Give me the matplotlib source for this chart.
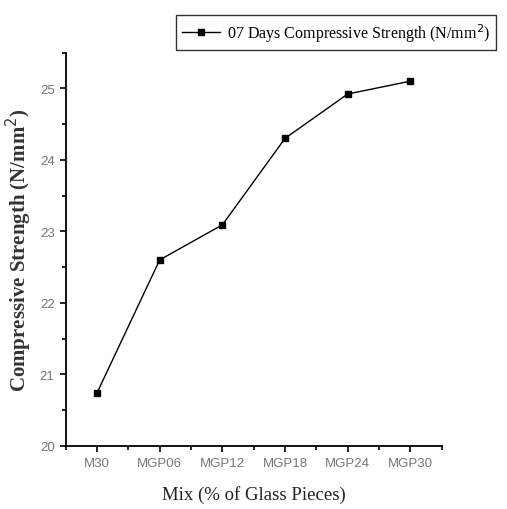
import matplotlib
matplotlib.use("Agg")
import matplotlib.pyplot as plt
from matplotlib.ticker import AutoMinorLocator, MultipleLocator

mixes = ["M30", "MGP06", "MGP12", "MGP18", "MGP24", "MGP30"]
strength_7d = [20.74, 22.60, 23.09, 24.30, 24.92, 25.10]

fig = plt.figure(figsize=(5.07, 5.10), dpi=100)
ax = fig.add_axes([0.1296, 0.124, 0.7416, 0.771])

x = list(range(1, len(mixes) + 1))
ax.plot(x, strength_7d, color="black", lw=1.0, marker="s", ms=5,
        label="07 Days Compressive Strength (N/mm$^2$)")

ax.set_xlim(0.5, 6.5)
ax.set_ylim(20, 25.5)
ax.set_xticks(x)
ax.set_xticklabels(mixes)
ax.yaxis.set_major_locator(MultipleLocator(1))
ax.xaxis.set_minor_locator(AutoMinorLocator(2))
ax.yaxis.set_minor_locator(AutoMinorLocator(2))

for side in ["top", "right"]:
    ax.spines[side].set_visible(False)
for side in ["left", "bottom"]:
    ax.spines[side].set_linewidth(1.3)

tick_font = ["Liberation Sans Narrow", "Liberation Sans", "DejaVu Sans"]
ax.tick_params(which="major", direction="out", length=4, width=1.2,
               labelsize=9.5, labelcolor="#777777", pad=4)
ax.tick_params(which="minor", direction="out", length=3, width=1.2)
for lbl in ax.get_xticklabels() + ax.get_yticklabels():
    lbl.set_family(tick_font)

ax.set_ylabel("Compressive Strength (N/mm$^2$)", family="Liberation Serif",
              fontsize=15, fontweight="bold", color="#333333", labelpad=4)
ax.set_xlabel("Mix (% of Glass Pieces)", family="Liberation Serif",
              fontsize=13.5, color="#222222", labelpad=12)

leg = fig.legend(loc="upper right", bbox_to_anchor=(0.995, 0.985),
                 prop={"family": "Liberation Serif", "size": 11.5},
                 frameon=True, fancybox=False, handlelength=2.4,
                 borderpad=0.4, handletextpad=0.4)
leg.get_frame().set_edgecolor("black")
leg.get_frame().set_linewidth(1.0)

fig.savefig("out.png", dpi=100)
